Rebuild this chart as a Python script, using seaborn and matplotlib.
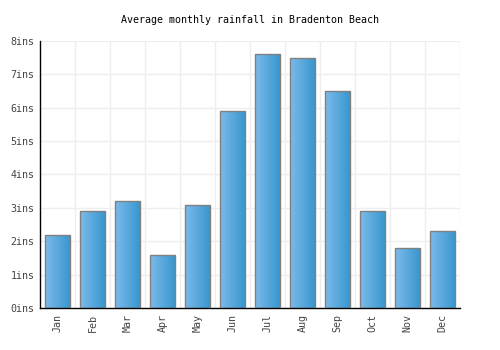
import numpy as np
import pandas as pd
import matplotlib
matplotlib.use("Agg")
import matplotlib.pyplot as plt
from matplotlib.colors import LinearSegmentedColormap
import seaborn as sns

months = ["Jan", "Feb", "Mar", "Apr", "May", "Jun", "Jul", "Aug", "Sep", "Oct", "Nov", "Dec"]
rainfall = [2.2, 2.9, 3.2, 1.6, 3.1, 5.9, 7.6, 7.5, 6.5, 2.9, 1.8, 2.3]
yticks = [0, 1, 2, 3, 4, 5, 6, 7, 8]
ytick_labels = [f"{v}ins" for v in yticks]

sns.set_style("white")
plt.rcParams["font.family"] = ["DejaVu Sans Mono"]

df = pd.DataFrame({"month": months, "rain": rainfall})

fig = plt.figure(figsize=(5, 3.5), dpi=100)
ax = fig.add_axes([0.08, 0.12, 0.84, 0.763])

sns.barplot(data=df, x="month", y="rain", ax=ax, width=0.69,
            color="#55a8de", edgecolor="#808080", linewidth=1, zorder=2)

# gradient fill clipped to each bar
cmap = LinearSegmentedColormap.from_list("bar", ["#7cbaea", "#3997cf"])
grad = np.linspace(0, 1, 64).reshape(1, -1)
for p in ax.patches:
    x0, y0 = p.get_x(), p.get_y()
    w, h = p.get_width(), p.get_height()
    im = ax.imshow(grad, cmap=cmap, aspect="auto", extent=[x0, x0 + w, y0, y0 + h],
                   zorder=2.5, interpolation="bilinear")
    im.set_clip_path(p)
    p.set_facecolor("none")
    p.set_zorder(3)

ax.set_xlim(-0.5, len(months) - 0.5)
ax.set_ylim(0, 8)
ax.set_yticks(yticks)
ax.set_yticklabels(ytick_labels)
ax.set_xticks(np.arange(len(months)))
ax.set_xticklabels(months, rotation=90)
ax.set_xticks(np.arange(len(months)) + 0.5, minor=True)
ax.tick_params(axis="both", labelsize=7.2, colors="#444444", length=0, pad=4)
ax.grid(False)
ax.yaxis.grid(True, color="#eeeeee", linewidth=1, zorder=0)
ax.xaxis.grid(True, which="minor", color="#eeeeee", linewidth=1, zorder=0)
ax.set_axisbelow(True)
ax.set_xlabel("")
ax.set_ylabel("")
for s in ["top", "right"]:
    ax.spines[s].set_visible(False)
for s in ["left", "bottom"]:
    ax.spines[s].set_color("black")
    ax.spines[s].set_linewidth(1)

fig.text(0.5, 1 - 20 / 350, "Average monthly rainfall in Bradenton Beach",
         ha="center", va="center", fontsize=7.2, color="black")

fig.savefig("out.png", dpi=100)
